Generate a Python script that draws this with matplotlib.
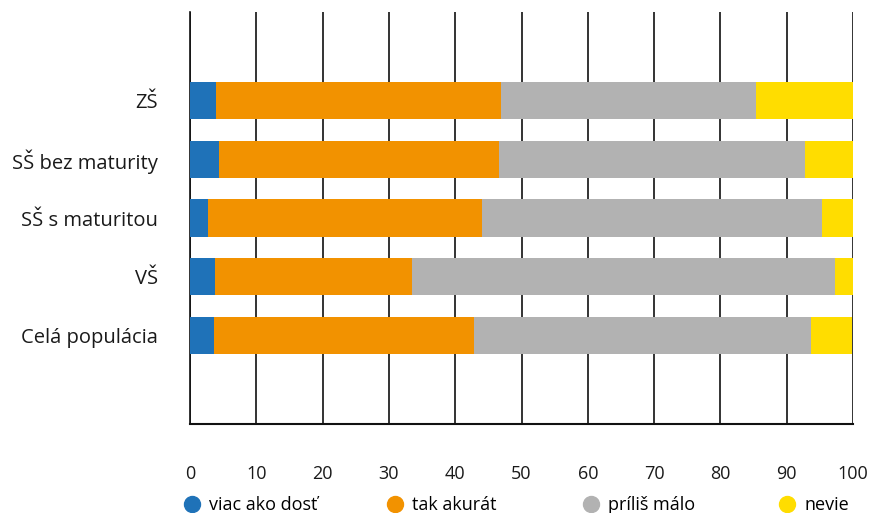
import numpy as np
import matplotlib
matplotlib.use('Agg')
import matplotlib.pyplot as plt
from matplotlib.lines import Line2D

plt.rcParams['font.family'] = ['Open Sans', 'DejaVu Sans']

# data (percent)
categories = ['ZŠ', 'SŠ bez maturity', 'SŠ s maturitou', 'VŠ', 'Celá populácia']
viac_ako_dost = [3.9, 4.4, 2.7, 3.8, 3.6]
tak_akurat = [43.0, 42.2, 41.3, 29.7, 39.2]
prilis_malo = [38.5, 46.2, 51.3, 63.8, 50.9]
nevie = [14.6, 7.2, 4.7, 2.7, 6.1]
series_names = ['viac ako dosť', 'tak akurát', 'príliš málo', 'nevie']
colors = ['#1f72b8', '#f29200', '#b2b2b2', '#ffdd00']
xticks = np.arange(0, 101, 10)

fig = plt.figure(figsize=(8.72, 5.13), dpi=100)
ax = fig.add_axes([190 / 872, 1 - 424 / 513, 663 / 872, 412 / 513])

# empty slot above and below the bars
ypos = np.arange(1, len(categories) + 1)
left = np.zeros(len(categories))
for vals, col in zip([viac_ako_dost, tak_akurat, prilis_malo, nevie], colors):
    ax.barh(ypos, vals, left=left, height=0.63, color=col, zorder=3)
    left += np.array(vals)

ax.set_ylim(len(categories) + 1.5, -0.5)
ax.set_xlim(0, 100)
ax.set_yticks(ypos)
ax.set_yticklabels(categories, fontsize=14.5, color='#1a1a1a')
ax.set_xticks(xticks)
ax.set_xticklabels([str(t) for t in xticks], fontsize=13, color='#1a1a1a')
ax.tick_params(axis='y', length=0, pad=23)
ax.tick_params(axis='x', length=0, pad=29.5)

ax.grid(axis='x', color='#111111', linewidth=1.2, zorder=0)
ax.set_axisbelow(True)
for s in ['top', 'right']:
    ax.spines[s].set_visible(False)
ax.spines['left'].set_color('#111111')
ax.spines['bottom'].set_color('#111111')
ax.spines['left'].set_linewidth(1.2)
ax.spines['bottom'].set_linewidth(1.5)

# legend entries placed one by one (uneven spacing in the original)
legend_x = [184, 387, 583, 779]
for name, col, lx in zip(series_names, colors, legend_x):
    h = Line2D([], [], marker='o', linestyle='none', markersize=11.5,
               markerfacecolor=col, markeredgecolor=col)
    fig.legend([h], [name], loc='center left', bbox_to_anchor=(lx / 872, 1 - 505 / 513),
               frameon=False, fontsize=13, handletextpad=0.5, handlelength=0.9,
               borderpad=0, borderaxespad=0)

fig.savefig('out.png', dpi=100)
